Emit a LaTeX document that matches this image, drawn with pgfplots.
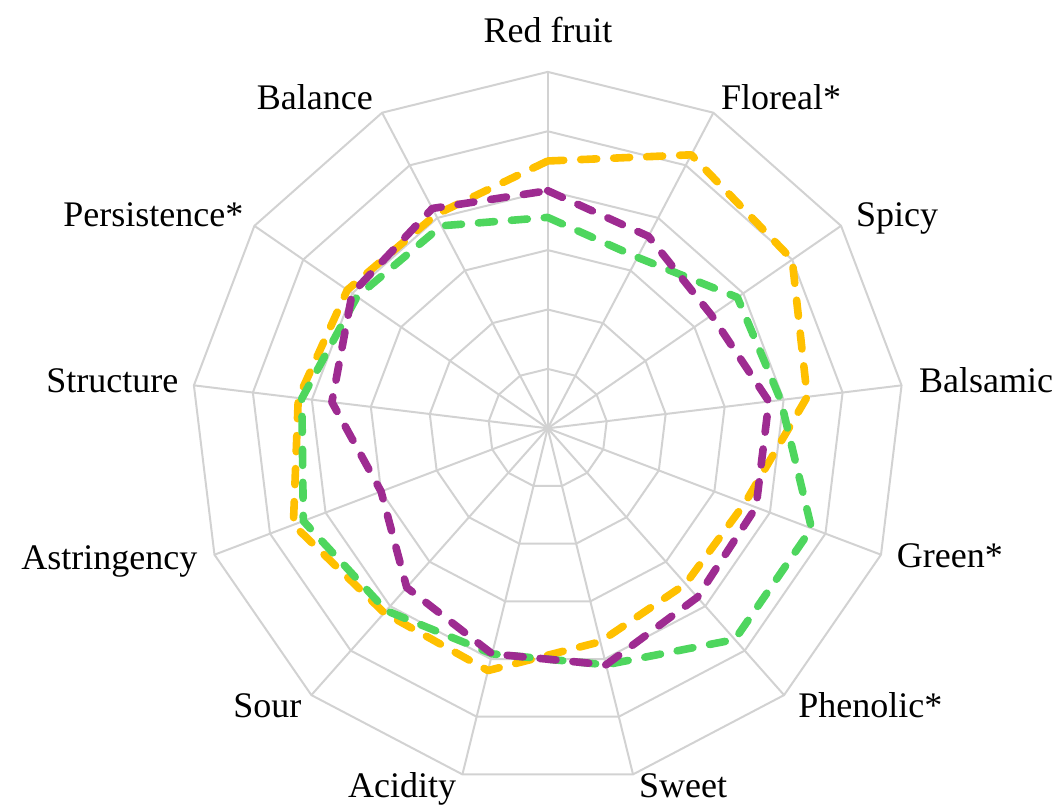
\documentclass[border=0pt]{standalone}
\usepackage{fontspec}
\setmainfont{Liberation Serif}
\usepackage{pgfplots}
\usepackage{pgfplotstable}
\pgfplotsset{compat=1.18}
\definecolor{cyellow}{RGB}{255,192,0}
\definecolor{cgreen}{RGB}{78,214,94}
\definecolor{cpurple}{RGB}{158,43,145}
\definecolor{cgrid}{RGB}{210,210,210}

\pgfplotsset{
  gridline/.style={cgrid, line width=1pt, forget plot, data cs=polar},
  series/.style={line width=3.8pt, dash pattern=on 8pt off 8.5pt, line cap=round, line join=round, mark=none, data cs=polar},
}
\tikzset{lab/.style={anchor=base, font=\rmfamily\fontsize{18}{21.6}\selectfont, text=black, inner sep=0pt}}

\pgfplotstableread{
angle     yellow  green  purple
90        4.50    3.55   4.00
62.3077   5.20    3.25   3.65
34.6154   5.00    3.88   3.35
6.9231    4.40    3.95   3.75
-20.7692  3.55    4.75   3.75
-48.4615  3.50    4.75   3.80
-76.1538  3.70    4.10   4.10
-103.8462 4.20    3.91   3.91
-131.5385 4.15    4.10   3.58
-159.2308 4.58    4.40   3.00
-186.9231 4.23    4.17   3.66
-214.6154 4.10    3.90   4.00
-242.3077 4.06    3.85   4.18
-270      4.50    3.55   4.00
}\radardata

\begin{document}
\begin{tikzpicture}
\begin{axis}[
  hide axis,
  x=29.7pt, y=29.7pt,
  xmin=-9.22, xmax=8.64, ymin=-6.34, ymax=7.21,
  clip=false,
]
% rings
\pgfplotsinvokeforeach{1,2,3,4,5,6}{
  \addplot[gridline] table[x=angle, y expr=#1] {\radardata};
}
% spokes
\pgfplotsinvokeforeach{90,62.3077,34.6154,6.9231,-20.7692,-48.4615,-76.1538,-103.8462,-131.5385,-159.2308,-186.9231,-214.6154,-242.3077}{
  \addplot[gridline] coordinates {(#1,0) (#1,6)};
}
% series
\addplot[series, cyellow] table[x=angle, y=yellow] {\radardata};
\addplot[series, cgreen]  table[x=angle, y=green]  {\radardata};
\addplot[series, cpurple] table[x=angle, y=purple] {\radardata};

% labels
\node[lab] at (axis cs:0.005,6.49) {Red fruit};
\node[lab] at (axis cs:3.93,5.37) {Floreal*};
\node[lab] at (axis cs:5.88,3.39) {Spicy};
\node[lab] at (axis cs:7.38,0.595) {Balsamic};
\node[lab] at (axis cs:6.77,-2.34) {Green*};
\node[lab] at (axis cs:5.43,-4.86) {Phenolic*};
\node[lab] at (axis cs:2.28,-6.21) {Sweet};
\node[lab] at (axis cs:-2.45,-6.21) {Acidity};
\node[lab] at (axis cs:-4.72,-4.86) {Sour};
\node[lab] at (axis cs:-7.38,-2.37) {Astringency};
\node[lab] at (axis cs:-7.33,0.595) {Structure};
\node[lab] at (axis cs:-6.64,3.39) {Persistence*};
\node[lab] at (axis cs:-3.92,5.37) {Balance};

\coordinate (bbl) at (rel axis cs:0,0);
\coordinate (btr) at (rel axis cs:1,1);
\end{axis}
\pgfresetboundingbox
\path[use as bounding box] (bbl) rectangle (btr);
\end{tikzpicture}
\end{document}
